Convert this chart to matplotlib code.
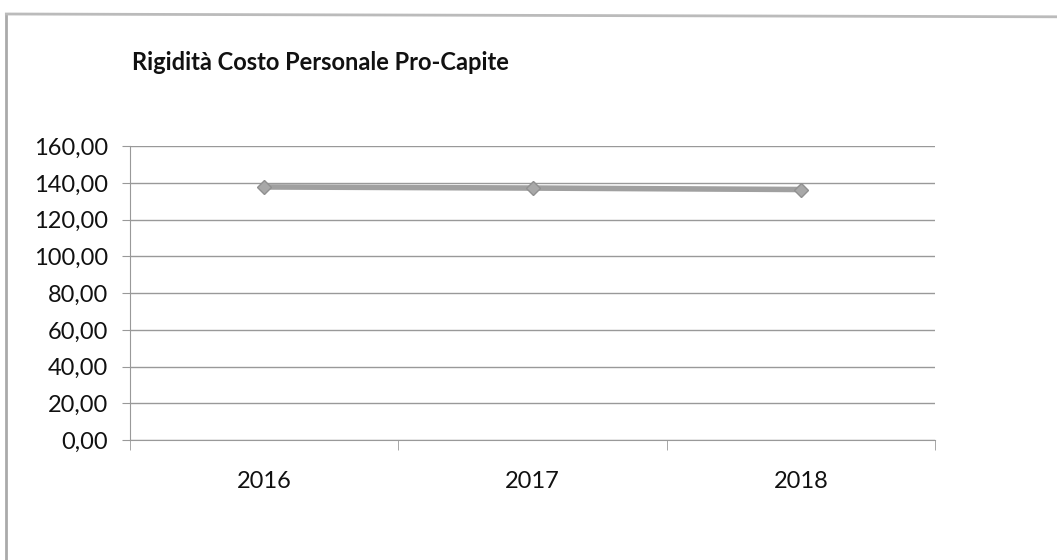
import matplotlib.pyplot as plt
from matplotlib.ticker import FuncFormatter

plt.rcParams['font.family'] = ['Lato', 'DejaVu Sans']

anni = ['2016', '2017', '2018']
valori = [137.8, 137.2, 136.4]
y_ticks = [0, 20, 40, 60, 80, 100, 120, 140, 160]

fig = plt.figure(figsize=(10.57, 5.6), dpi=100)
ax = fig.add_axes([0.123, 0.214, 0.762, 0.525])

x = list(range(len(anni)))
ax.plot(x, valori, color='#a0a0a0', lw=4, marker='D', markersize=7,
        markerfacecolor='#a8a8a8', markeredgecolor='#909090', zorder=3)

ax.set_xlim(-0.5, len(anni) - 0.5)
ax.set_ylim(0, 160)
ax.set_yticks(y_ticks)
ax.yaxis.set_major_formatter(FuncFormatter(lambda v, p: f'{v:.2f}'.replace('.', ',')))
ax.set_xticks(x)
ax.set_xticklabels(anni)
ax.set_xticks([i - 0.5 for i in range(len(anni) + 1)], minor=True)
ax.tick_params(axis='x', which='major', length=0, pad=22, labelsize=17, labelcolor='#111111')
ax.tick_params(axis='x', which='minor', length=7, color='#999999')
ax.tick_params(axis='y', length=6, color='#999999', labelsize=17, pad=10, labelcolor='#111111')

ax.grid(axis='y', color='#999999', lw=1)
for s in ['top', 'right']:
    ax.spines[s].set_visible(False)
ax.spines['left'].set_color('#999999')
ax.spines['bottom'].set_color('#999999')
ax.set_axisbelow(True)

fig.text(0.125, 0.875, 'Rigidità Costo Personale Pro-Capite', fontsize=17,
         fontweight='bold', color='#111111')

# bordo del foglio scansionato
fig.add_artist(plt.Line2D([0.006, 0.006], [0, 0.975], color='#aaaaaa', lw=2))
fig.add_artist(plt.Line2D([0.006, 1], [0.975, 0.97], color='#bbbbbb', lw=2))

fig.savefig('out.png', dpi=100)
